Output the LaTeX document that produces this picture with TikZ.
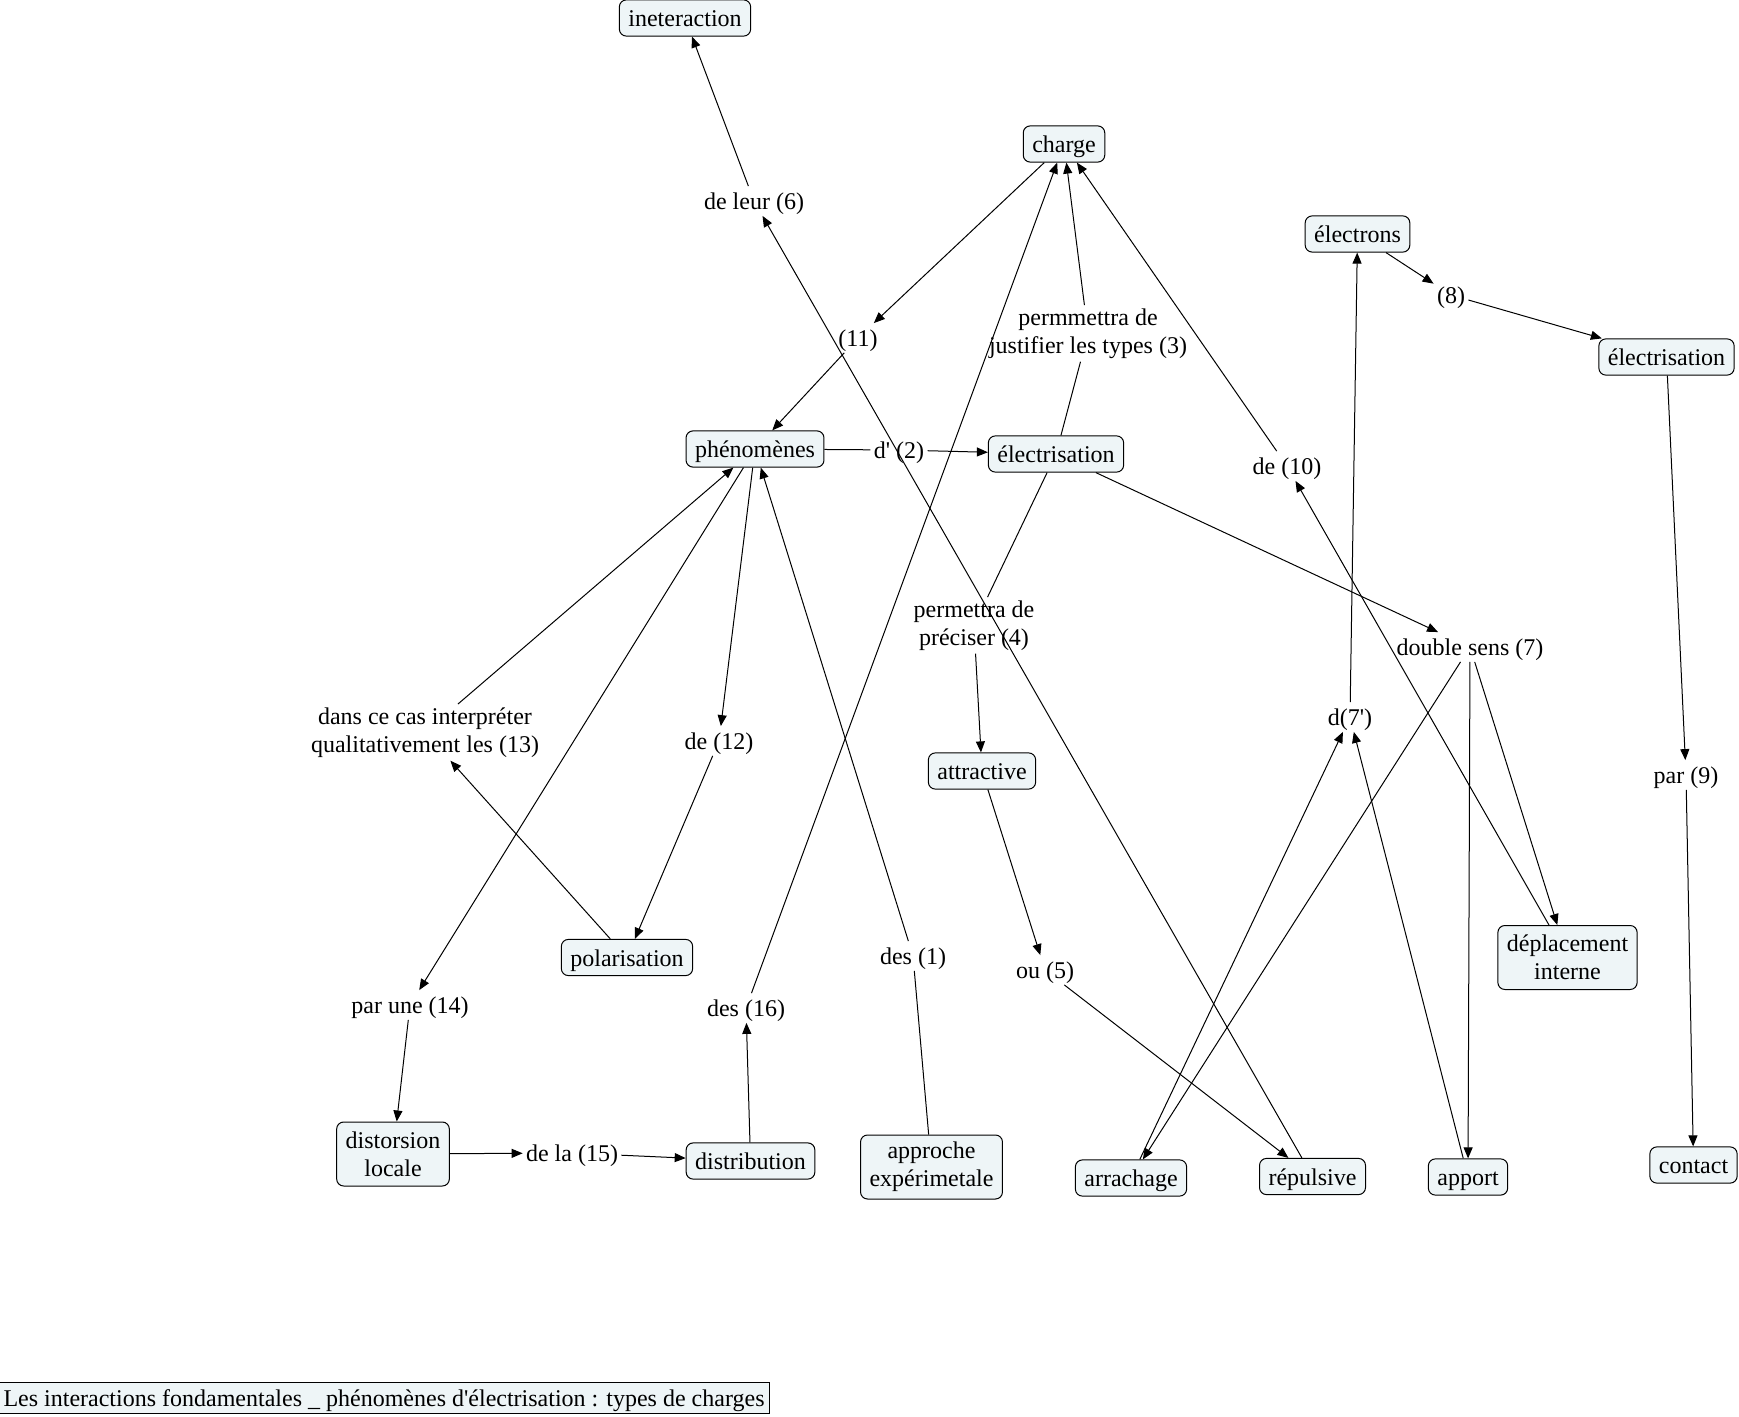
\documentclass[tikz,border=0pt]{standalone}
\usepackage{fontspec}
\setmainfont{Liberation Serif}[Ligatures=TeXOff]
\usetikzlibrary{arrows.meta}
\definecolor{cfill}{RGB}{238,245,247}
\begin{document}
\begin{tikzpicture}[x=0.5pt,y=-0.5pt,
  every node/.style={font=\fontsize{12}{14}\selectfont},
  concept/.style={draw=black, line width=0.5pt, fill=cfill, rounded corners=3.5pt,
    inner xsep=4.5pt, inner ysep=3.3pt, text height=10pt, text depth=1.5pt},
  concepttwo/.style={draw=black, line width=0.5pt, fill=cfill, rounded corners=3.5pt,
    inner xsep=4.5pt, inner ysep=2pt, minimum height=32pt, align=center},
  lnk/.style={inner xsep=1.5pt, inner ysep=1.5pt, text height=10pt, text depth=1.5pt},
  lnktwo/.style={inner xsep=1.5pt, inner ysep=1.5pt, align=center, yshift=-1.2pt},
  caption/.style={draw=black, line width=0.5pt, fill=cfill, inner xsep=2.75pt,
    inner ysep=2.2pt, text height=10pt, text depth=1.5pt},
  con/.style={line width=0.5pt, draw=black},
  arr/.style={con, -{Triangle[length=5.5pt,width=4.5pt]}}]
\useasboundingbox (0,0) rectangle (1739,1417);

% concepts
\node[concept] (inter) at (685,18) {ineteraction};
\node[concept] (charge) at (1064,144) {charge};
\node[concept] (electrons) at (1357.5,234) {électrons};
\node[concept] (elec2) at (1666.5,357) {électrisation};
\node[concept] (phen) at (755,449) {phénomènes};
\node[concept] (elec) at (1056,454) {électrisation};
\node[concept] (attr) at (982,771) {attractive};
\node[concept] (polar) at (627,957.5) {polarisation};
\node[concepttwo] (deplac) at (1567.5,957.5) {déplacement\\interne};
\node[concepttwo] (distor) at (393,1154) {distorsion\\locale};
\node[concept] (distrib) at (750.5,1161) {distribution};
\node[concepttwo] (approche) at (931.5,1167) {approche\\expérimetale};
\node[concept] (arrach) at (1131,1178) {arrachage};
\node[concept] (repul) at (1312.5,1176.5) {répulsive};
\node[concept] (apport) at (1468,1177) {apport};
\node[concept] (contact) at (1693.5,1165) {contact};

% linking phrases
\node[lnk] (l6) at (754,201) {de leur (6)};
\node[lnk] (l11) at (858,338) {(11)};
\node[lnk] (l2) at (899,450) {d' (2)};
\node[lnktwo] (l3) at (1088,331) {permmettra de\\justifier les types (3)};
\node[lnk] (l10) at (1287,466) {de (10)};
\node[lnk] (l8) at (1451,295) {(8)};
\node[lnktwo] (l4) at (974,623) {permettra de\\préciser (4)};
\node[lnk] (l7) at (1470,647) {double sens (7)};
\node[lnk] (l7p) at (1350,717) {d(7')};
\node[lnktwo] (l13) at (425,730) {dans ce cas interpréter\\qualitativement les (13)};
\node[lnk] (l12) at (719,741) {de (12)};
\node[lnk] (l9) at (1686,775) {par (9)};
\node[lnk] (l1) at (913,956) {des (1)};
\node[lnk] (l5) at (1045,970) {ou (5)};
\node[lnk] (l14) at (410,1005) {par une (14)};
\node[lnk] (l16) at (746,1008) {des (16)};
\node[lnk] (l15) at (572,1153) {de la (15)};

% caption
\node[caption] (cap) at (384,1398) {Les interactions fondamentales \_ phénomènes d'électrisation : types de charges};

% connectors
\draw[arr] (l6) -- (inter);
\draw[arr] (repul) -- (l6);
\draw[arr] (charge) -- (l11);
\draw[arr] (l11) -- (phen);
\draw[con] (phen) -- (l2);
\draw[arr] (l2) -- (elec);
\draw[con] (elec) -- (l3);
\draw[arr] (l3) -- (charge);
\draw[con] (elec) -- (l4);
\draw[arr] (l4) -- (attr);
\draw[arr] (attr) -- (l5);
\draw[arr] (l5) -- (repul);
\draw[arr] (elec) -- (l7);
\draw[arr] (l7) -- (arrach);
\draw[arr] (l7) -- (apport);
\draw[arr] (l7) -- (deplac);
\draw[arr] (deplac) -- (l10);
\draw[arr] (l10) -- (charge);
\draw[arr] (electrons) -- (l8);
\draw[arr] (l8) -- (elec2);
\draw[arr] (elec2) -- (l9);
\draw[arr] (l9) -- (contact);
\draw[arr] (l7p) -- (electrons);
\draw[arr] (arrach) -- (l7p);
\draw[arr] (apport) -- (l7p);
\draw[arr] (phen) -- (l12);
\draw[arr] (l12) -- (polar);
\draw[arr] (polar) -- (l13);
\draw[arr] (l13) -- (phen);
\draw[arr] (phen) -- (l14);
\draw[arr] (l14) -- (distor);
\draw[arr] (distor) -- (l15);
\draw[arr] (l15) -- (distrib);
\draw[arr] (distrib) -- (l16);
\draw[arr] (l16) -- (charge);
\draw[con] (approche) -- (l1);
\draw[arr] (l1) -- (phen);
\end{tikzpicture}
\end{document}
